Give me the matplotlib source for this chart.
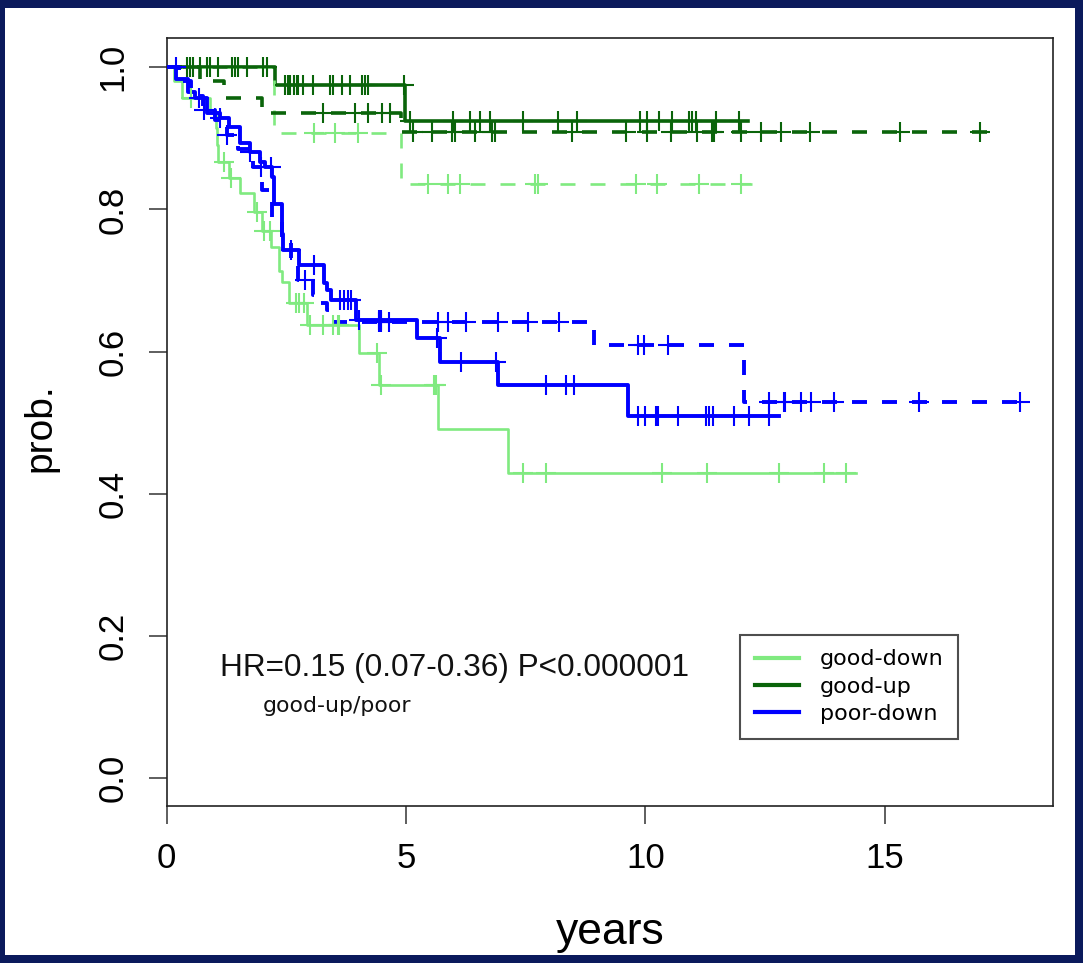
import numpy as np
import matplotlib
matplotlib.use("Agg")
import matplotlib.pyplot as plt
from matplotlib.patches import Rectangle

plt.rcParams['font.family'] = ['Liberation Sans', 'DejaVu Sans']

# ---- curves: step times, survival after each step, last follow-up, censor times ----
gd_s_t = [0, 0.15, 0.31, 0.91, 1.02, 1.05, 1.08, 1.3, 1.54, 1.82, 2.0, 2.18, 2.34, 2.4,
          2.56, 2.94, 4.02, 4.43, 5.66, 7.13]
gd_s_y = [1.0, 0.98, 0.956, 0.937, 0.915, 0.89, 0.867, 0.844, 0.823, 0.797, 0.77, 0.747,
          0.714, 0.698, 0.668, 0.637, 0.598, 0.553, 0.491, 0.429]
gd_s_end = 14.41
gd_s_cens = [0.5, 1.2, 1.34, 1.88, 2.03, 2.15, 2.7, 2.76, 2.87, 3.0, 3.26, 3.47, 3.57, 3.6,
             4.4, 4.47, 5.58, 5.62, 7.44, 7.93, 10.36, 11.29, 12.8, 13.74, 14.2]

gd_d_t = [0, 2.25, 4.9]
gd_d_y = [1.0, 0.907, 0.836]
gd_d_end = 12.23
gd_d_cens = [3.07, 3.52, 4.0, 5.46, 5.88, 6.13, 7.69, 7.75, 9.81, 10.25, 11.13, 12.0]

gu_s_t = [0, 2.27, 4.98]
gu_s_y = [1.0, 0.975, 0.924]
gu_s_end = 12.15
gu_s_cens = [0.43, 0.49, 0.56, 0.7, 0.85, 0.91, 1.08, 1.36, 1.43, 1.49, 1.67, 2.01, 2.09,
             2.48, 2.54, 2.58, 2.65, 2.73, 2.75, 2.85, 3.06, 3.42, 3.48, 3.67, 3.83, 4.08,
             4.15, 4.21, 4.95, 5.08, 5.98, 6.33, 6.54, 6.75, 7.44, 8.17, 8.58, 9.88, 10.04,
             10.29, 10.56, 10.92, 10.98, 11.06, 11.48, 11.96]

gu_d_t = [0, 0.7, 1.2, 2.0, 4.9]
gu_d_y = [1.0, 0.98, 0.957, 0.935, 0.909]
gu_d_end = 17.3
gu_d_cens = [3.27, 3.94, 4.21, 4.5, 4.67, 5.15, 5.54, 5.96, 6.02, 6.44, 6.79, 6.85, 8.46,
             9.6, 10.04, 10.54, 11.08, 11.4, 11.44, 12.0, 12.41, 12.83, 13.45, 15.33, 17.0]

pd_s_t = [0, 0.2, 0.45, 0.6, 0.85, 1.12, 1.3, 1.54, 1.74, 1.95, 2.05, 2.21, 2.24, 2.41,
          2.44, 2.76, 3.28, 3.35, 3.43, 3.95, 5.24, 5.72, 6.92, 9.64]
pd_s_y = [1.0, 0.984, 0.965, 0.956, 0.935, 0.928, 0.916, 0.893, 0.881, 0.867, 0.86, 0.846,
          0.808, 0.766, 0.743, 0.722, 0.696, 0.686, 0.672, 0.644, 0.619, 0.586, 0.553, 0.509]
pd_s_end = 12.8
pd_s_cens = [0.19, 0.67, 1.12, 1.74, 2.17, 2.6, 3.08, 3.63, 3.7, 3.78, 3.85, 4.01, 4.43,
             4.47, 5.65, 6.14, 6.88, 7.93, 8.35, 8.52, 9.84, 10.0, 10.22, 10.26, 10.68,
             11.26, 11.33, 11.41, 11.85, 12.17, 12.59]

pd_d_t = [0, 0.25, 0.5, 0.75, 1.0, 1.25, 1.5, 1.8, 2.0, 2.2, 2.4, 2.6, 2.75, 3.05, 3.2,
          3.35, 3.5, 8.93, 12.07]
pd_d_y = [1.0, 0.98, 0.96, 0.94, 0.925, 0.905, 0.885, 0.86, 0.827, 0.785, 0.76, 0.73, 0.70,
          0.68, 0.668, 0.658, 0.642, 0.609, 0.529]
pd_d_end = 18.07
pd_d_cens = [0.77, 1.27, 1.98, 2.9, 4.43, 4.47, 4.64, 5.67, 5.88, 6.26, 6.92, 7.55, 8.2,
             9.85, 9.98, 10.48, 12.59, 12.89, 12.91, 13.26, 13.47, 13.95, 15.71, 17.82]

labels = ['good-down', 'good-up', 'poor-down']
c_light = '#80EA80'
c_dark = '#0A640A'
c_blue = '#0000FF'

W, H = 1083, 963
fig = plt.figure(figsize=(W / 100, H / 100), dpi=100)
fig.patch.set_facecolor('#0B1A5C')
fig.add_artist(Rectangle((5 / W, 8 / H), (1075 - 5) / W, (955 - 8) / H,
                         transform=fig.transFigure, facecolor='white', edgecolor='none',
                         zorder=-10))

ax = fig.add_axes([166.7 / W, 1 - 806 / H, (1053 - 166.7) / W, (806 - 38) / H])


def km(t, y, end, cens, color, lw, dashed, label=None):
    t = np.asarray(t, float)
    y = np.asarray(y, float)
    ls = (0, (10.8 / lw, 10.8 / lw)) if dashed else '-'
    ax.step(np.append(t, end), np.append(y, y[-1]), where='post', color=color, lw=lw,
            linestyle=ls, label=label, zorder=3)
    cens = np.asarray(cens, float)
    idx = np.searchsorted(t, cens, side='right') - 1
    ax.plot(cens, y[idx], linestyle='none', marker='+', markersize=14,
            markeredgewidth=1.5, color=color, zorder=4)


km(gd_s_t, gd_s_y, gd_s_end, gd_s_cens, c_light, 1.9, False, labels[0])
km(gu_s_t, gu_s_y, gu_s_end, gu_s_cens, c_dark, 2.6, False, labels[1])
km(pd_s_t, pd_s_y, pd_s_end, pd_s_cens, c_blue, 2.8, False, labels[2])
km(gd_d_t, gd_d_y, gd_d_end, gd_d_cens, c_light, 1.9, True)
km(gu_d_t, gu_d_y, gu_d_end, gu_d_cens, c_dark, 2.6, True)
km(pd_d_t, pd_d_y, pd_d_end, pd_d_cens, c_blue, 2.8, True)

ax.set_xlim(0, 18.52)
ax.set_ylim(-0.039, 1.041)
ax.set_xticks([0, 5, 10, 15])
ax.set_yticks([0.0, 0.2, 0.4, 0.6, 0.8, 1.0])
ax.set_yticklabels(['0.0', '0.2', '0.4', '0.6', '0.8', '1.0'], rotation=90, va='center')
ax.tick_params(axis='both', direction='out', length=13, width=1.1, color='#333333',
               labelsize=25)
ax.tick_params(axis='y', pad=14)
ax.tick_params(axis='x', pad=13)
for s in ax.spines.values():
    s.set_linewidth(1.2)
    s.set_color('#222222')

ax.text(1.11, 0.155, 'HR=0.15 (0.07-0.36) P<0.000001', fontsize=22.7, ha='left',
        va='center', color='#111111')
ax.text(2.0, 0.101, 'good-up/poor', fontsize=15.8, ha='left', va='center', color='#111111',
        family='DejaVu Sans')

leg = ax.legend(loc='upper left', bbox_to_anchor=(0.647, 0.2227),
                prop={'family': 'DejaVu Sans', 'size': 16},
                frameon=True, fancybox=False, edgecolor='#222222', handlelength=2.0,
                handletextpad=0.95, labelspacing=0.33, borderpad=0.65, borderaxespad=0)
leg.get_frame().set_linewidth(1.5)
for line in leg.get_lines():
    line.set_linewidth(3.0)

fig.text(40 / W, 1 - 428 / H, 'prob.', rotation=90, ha='center', va='center', fontsize=28)
fig.text(610 / W, 1 - 932 / H, 'years', ha='center', va='center', fontsize=32)

fig.savefig('out.png', dpi=100, facecolor=fig.get_facecolor())
